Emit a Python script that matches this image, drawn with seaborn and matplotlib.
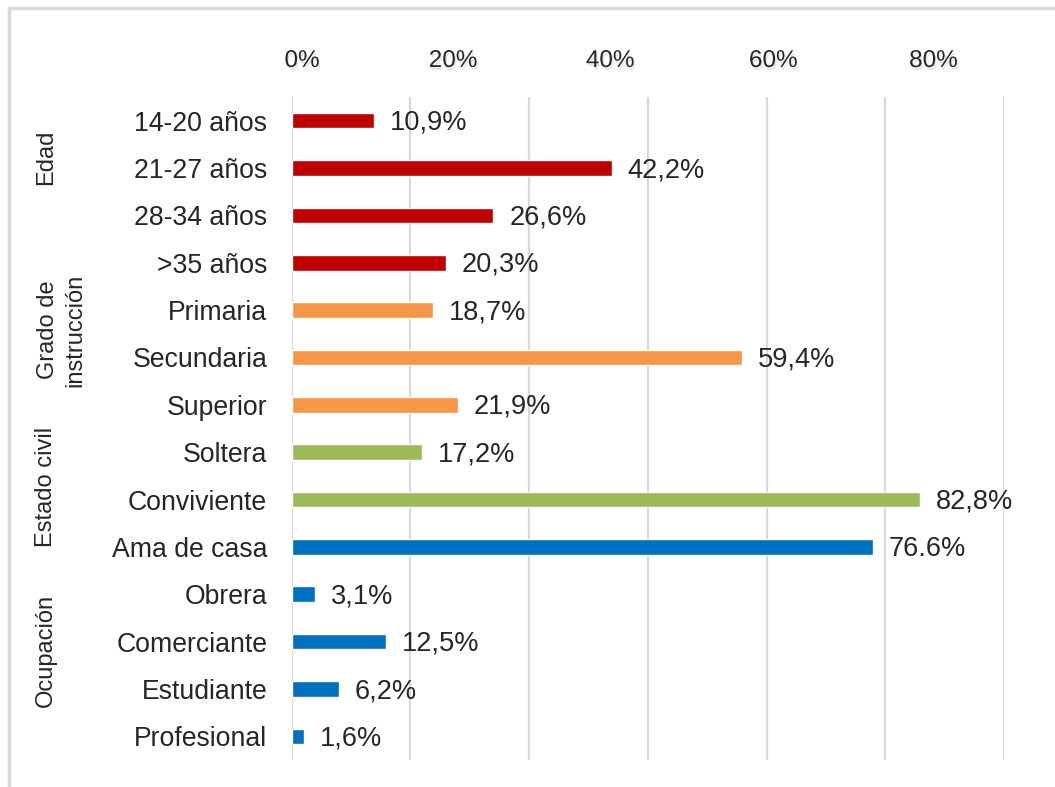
import matplotlib
matplotlib.use('Agg')
import matplotlib.pyplot as plt
import matplotlib.patheffects as pe
from matplotlib.lines import Line2D
import numpy as np
import pandas as pd
import seaborn as sns

# Chart data
categories = ['14-20 años', '21-27 años', '28-34 años', '>35 años',
              'Primaria', 'Secundaria', 'Superior',
              'Soltera', 'Conviviente',
              'Ama de casa', 'Obrera', 'Comerciante', 'Estudiante', 'Profesional']
values = [10.9, 42.2, 26.6, 20.3, 18.7, 59.4, 21.9, 17.2, 82.8, 76.6, 3.1, 12.5, 6.2, 1.6]
value_labels = ['10,9%', '42,2%', '26,6%', '20,3%', '18,7%', '59,4%', '21,9%',
                '17,2%', '82,8%', '76.6%', '3,1%', '12,5%', '6,2%', '1,6%']
groups = (['Edad'] * 4 + ['Grado de\ninstrucción'] * 3 +
          ['Estado civil'] * 2 + ['Ocupación'] * 5)
group_names = ['Edad', 'Grado de\ninstrucción', 'Estado civil', 'Ocupación']
group_colors = ['#C00000', '#F79646', '#9BBB59', '#0070C0']
top_tick_labels = ['0%', '20%', '40%', '60%', '80%']

df = pd.DataFrame({'Categoria': categories, 'Valor': values, 'Grupo': groups})

sns.set_style('white')
plt.rcParams['font.family'] = ['Liberation Sans', 'DejaVu Sans']

W, H = 1055, 787
fig = plt.figure(figsize=(W / 100, H / 100), dpi=100)
ax = fig.add_axes([291.5 / W, 1 - 760 / H, (1004 - 291.5) / W, (760 - 97) / H])

sns.barplot(data=df, x='Valor', y='Categoria', hue='Grupo', hue_order=group_names,
            palette=group_colors, dodge=False, width=0.33, orient='h',
            legend=False, saturation=1, ax=ax)

# axis range and gridlines (Excel-like major unit)
xmax = 93.9
ax.set_xlim(0, xmax)
ax.set_ylim(len(categories) - 0.5, -0.5)
ax.set_xticks(np.linspace(0, xmax, 7))
ax.set_xticklabels([])
ax.grid(axis='x', color='#D9D9D9', linewidth=1.6)
ax.set_axisbelow(True)
for s in ax.spines.values():
    s.set_visible(False)
ax.tick_params(axis='x', length=0)
ax.tick_params(axis='y', length=0, pad=17.5, labelsize=19.2)
ax.set_xlabel('')
ax.set_ylabel('')

# value labels
for i, (v, lab) in enumerate(zip(values, value_labels)):
    ax.annotate(lab, xy=(v, i), xytext=(11.5, -1.5), textcoords='offset points',
                ha='left', va='center', fontsize=19.6)

# top percentage labels (offset from gridlines as in the original)
top = ax.secondary_xaxis('top')
top.set_xticks([1.4, 21.3, 42.0, 63.5, 84.6])
top.set_xticklabels(top_tick_labels)
top.tick_params(length=0, pad=18)
for t in top.get_xticklabels():
    t.set_fontsize(17.5)
    t.set_path_effects([pe.SimplePatchShadow(offset=(1, -2), shadow_rgbFace='#999999', alpha=0.25),
                        pe.Normal()])
top.spines['top'].set_visible(False)

# group labels (rotated)
group_label_pos = [(46, 157), (62, 330), (46, 487), (46, 650)]
for name, (px, py) in zip(group_names, group_label_pos):
    fig.text(px / W, 1 - py / H, name, rotation=90, ha='center', va='center',
             fontsize=17, linespacing=1.3, multialignment='center')

# outer light frame
fig.add_artist(Line2D([9 / W, 9 / W], [0, 1 - 8 / H], transform=fig.transFigure,
                      color='#D9D9D9', linewidth=2.5))
fig.add_artist(Line2D([9 / W, 1], [1 - 8 / H, 1 - 8 / H], transform=fig.transFigure,
                      color='#D9D9D9', linewidth=2.5))

fig.savefig('out.png', dpi=100)
